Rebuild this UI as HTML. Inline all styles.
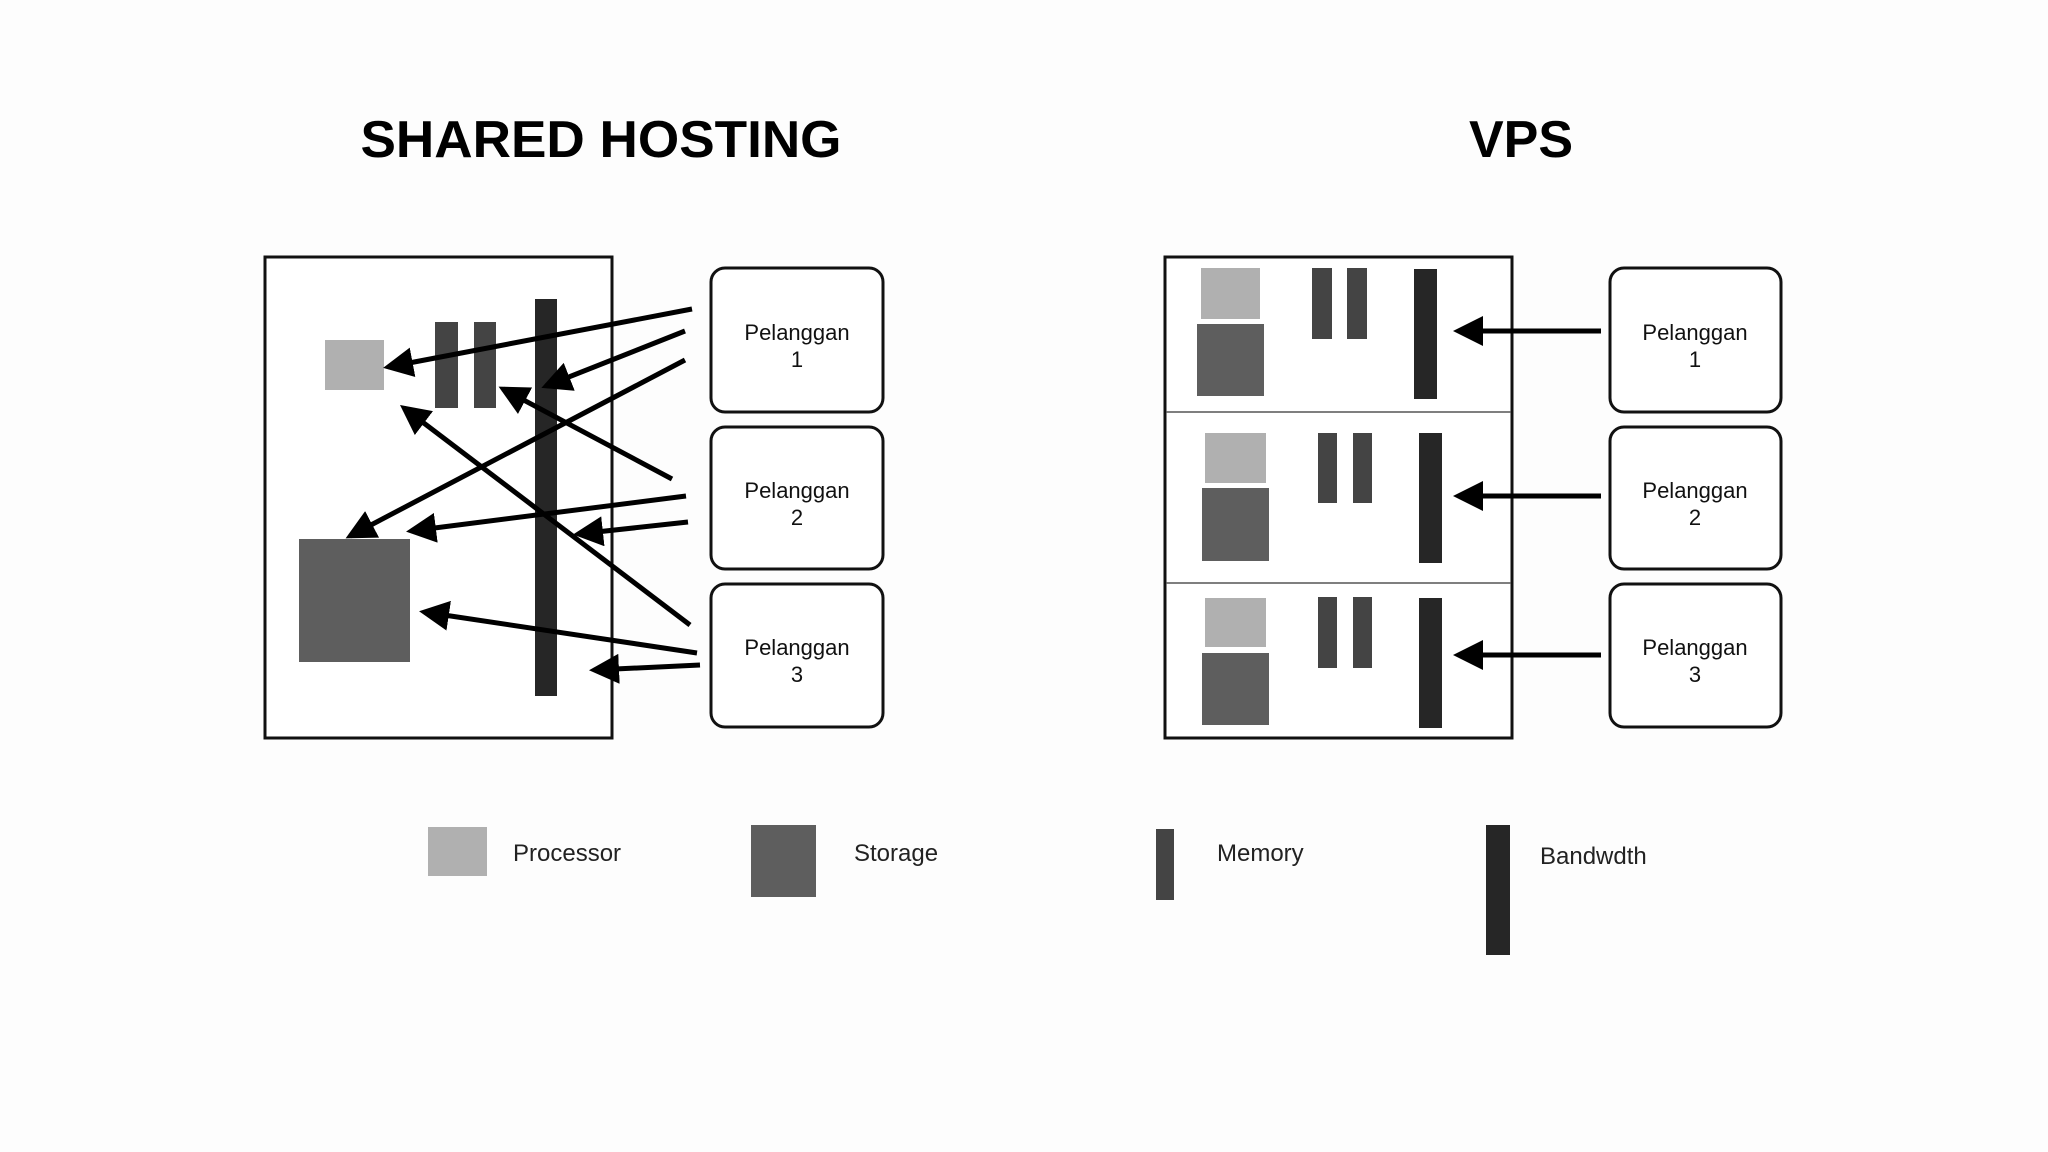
<!DOCTYPE html>
<html><head><meta charset="utf-8"><style>
html,body{margin:0;padding:0;background:#fdfdfd;}
svg{display:block;}
text{font-family:"Liberation Sans",sans-serif;}
</style></head><body>
<svg width="2048" height="1152" viewBox="0 0 2048 1152" xmlns="http://www.w3.org/2000/svg">
<defs>
<marker id="ah" markerWidth="6" markerHeight="6" refX="5" refY="3" orient="auto" markerUnits="strokeWidth">
<path d="M0,0 L6,3 L0,6 Z" fill="#000"/>
</marker>
</defs>
<rect width="2048" height="1152" fill="#fdfdfd"/>
<text x="601" y="157" font-size="52" font-weight="bold" text-anchor="middle" textLength="481" lengthAdjust="spacingAndGlyphs" fill="#000">SHARED HOSTING</text>
<text x="1521" y="157" font-size="52" font-weight="bold" text-anchor="middle" fill="#000">VPS</text>

<!-- Left diagram -->
<rect x="265" y="257" width="347" height="481" fill="#fff" stroke="#111" stroke-width="3"/>
<rect x="325" y="340" width="59" height="50" fill="#b0b0b0"/>
<rect x="435" y="322" width="23" height="86" fill="#444"/>
<rect x="474" y="322" width="22" height="86" fill="#444"/>
<rect x="535" y="299" width="22" height="397" fill="#262626"/>
<rect x="299" y="539" width="111" height="123" fill="#5e5e5e"/>
<g stroke="#000" stroke-width="5" marker-end="url(#ah)">
<line x1="692" y1="309" x2="388" y2="367"/>
<line x1="685" y1="331" x2="546" y2="386"/>
<line x1="685" y1="360" x2="350" y2="536"/>
<line x1="672" y1="479" x2="503" y2="389"/>
<line x1="686" y1="496" x2="411" y2="531"/>
<line x1="688" y1="522" x2="578" y2="534"/>
<line x1="690" y1="625" x2="404" y2="408"/>
<line x1="697" y1="653" x2="424" y2="612"/>
<line x1="700" y1="665" x2="594" y2="670"/>
</g>
<g fill="#fff" stroke="#111" stroke-width="3">
<rect x="711" y="268" width="172" height="144" rx="14"/>
<rect x="711" y="427" width="172" height="142" rx="14"/>
<rect x="711" y="584" width="172" height="143" rx="14"/>
<rect x="1610" y="268" width="171" height="144" rx="14"/>
<rect x="1610" y="427" width="171" height="142" rx="14"/>
<rect x="1610" y="584" width="171" height="143" rx="14"/>
</g>
<g font-size="22" fill="#111" text-anchor="middle">
<text x="797" y="340">Pelanggan</text><text x="797" y="367">1</text>
<text x="797" y="498">Pelanggan</text><text x="797" y="525">2</text>
<text x="797" y="655">Pelanggan</text><text x="797" y="682">3</text>
<text x="1695" y="340">Pelanggan</text><text x="1695" y="367">1</text>
<text x="1695" y="498">Pelanggan</text><text x="1695" y="525">2</text>
<text x="1695" y="655">Pelanggan</text><text x="1695" y="682">3</text>
</g>

<!-- Right diagram -->
<rect x="1165" y="257" width="347" height="481" fill="#fff" stroke="#111" stroke-width="3"/>
<line x1="1166" y1="412" x2="1511" y2="412" stroke="#555" stroke-width="1.5"/>
<line x1="1166" y1="583" x2="1511" y2="583" stroke="#555" stroke-width="1.5"/>
<rect x="1201" y="268" width="59" height="51" fill="#b0b0b0"/>
<rect x="1197" y="324" width="67" height="72" fill="#5e5e5e"/>
<rect x="1312" y="268" width="20" height="71" fill="#444"/>
<rect x="1347" y="268" width="20" height="71" fill="#444"/>
<rect x="1414" y="269" width="23" height="130" fill="#262626"/>

<rect x="1205" y="433" width="61" height="50" fill="#b0b0b0"/>
<rect x="1202" y="488" width="67" height="73" fill="#5e5e5e"/>
<rect x="1318" y="433" width="19" height="70" fill="#444"/>
<rect x="1353" y="433" width="19" height="70" fill="#444"/>
<rect x="1419" y="433" width="23" height="130" fill="#262626"/>

<rect x="1205" y="598" width="61" height="49" fill="#b0b0b0"/>
<rect x="1202" y="653" width="67" height="72" fill="#5e5e5e"/>
<rect x="1318" y="597" width="19" height="71" fill="#444"/>
<rect x="1353" y="597" width="19" height="71" fill="#444"/>
<rect x="1419" y="598" width="23" height="130" fill="#262626"/>

<g stroke="#000" stroke-width="5" marker-end="url(#ah)">
<line x1="1601" y1="331" x2="1458" y2="331"/>
<line x1="1601" y1="496" x2="1458" y2="496"/>
<line x1="1601" y1="655" x2="1458" y2="655"/>
</g>

<!-- Legend -->
<rect x="428" y="827" width="59" height="49" fill="#b0b0b0"/>
<text x="513" y="861" font-size="24" fill="#222">Processor</text>
<rect x="751" y="825" width="65" height="72" fill="#5e5e5e"/>
<text x="854" y="861" font-size="24" fill="#222">Storage</text>
<rect x="1156" y="829" width="18" height="71" fill="#444"/>
<text x="1217" y="861" font-size="24" fill="#222">Memory</text>
<rect x="1486" y="825" width="24" height="130" fill="#262626"/>
<text x="1540" y="864" font-size="24" fill="#222">Bandwdth</text>
</svg>
</body></html>
